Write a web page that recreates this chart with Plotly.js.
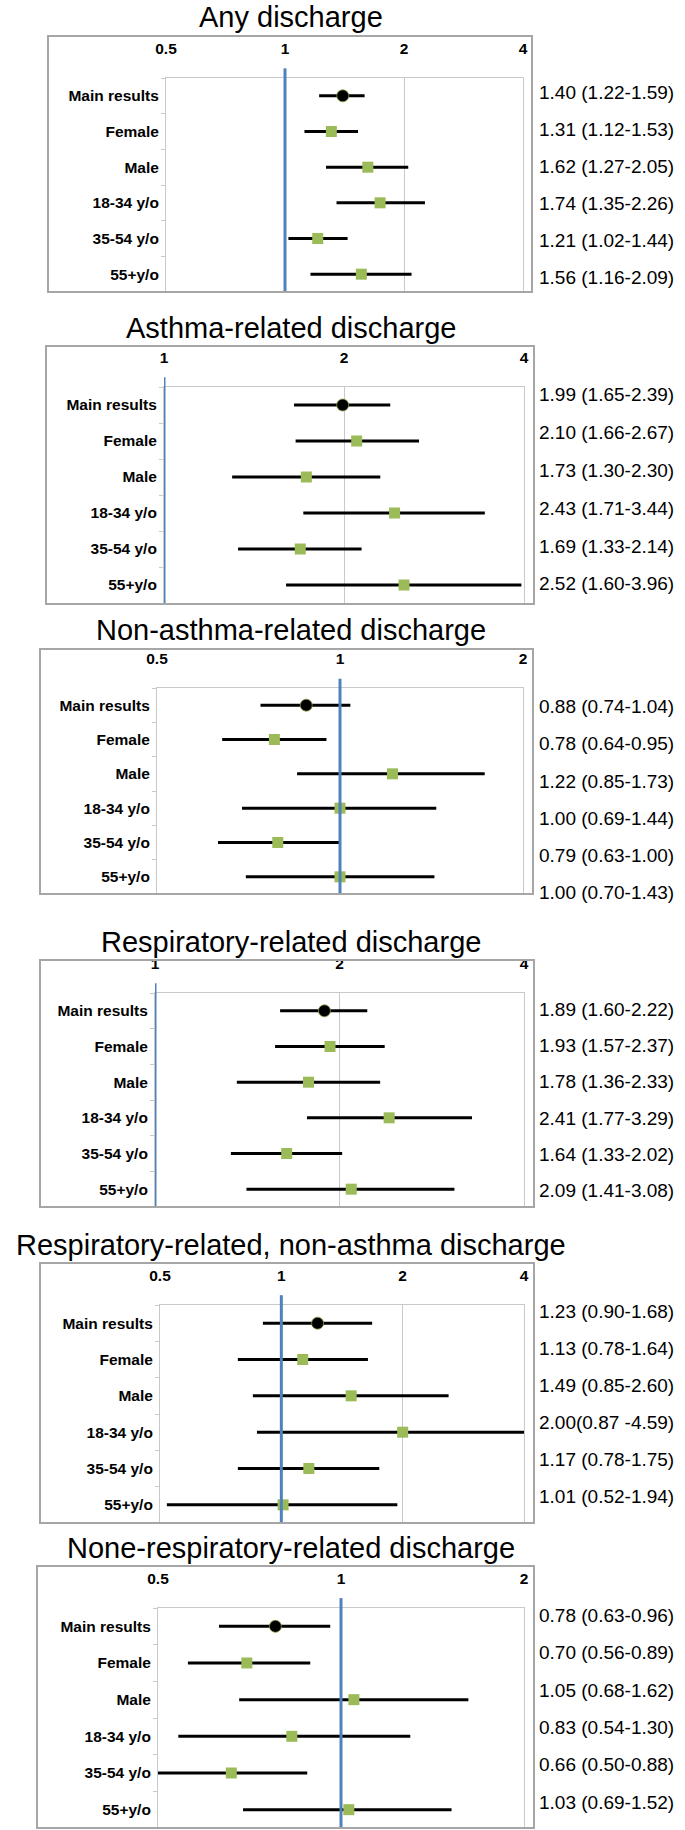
<!DOCTYPE html>
<html>
<head>
<meta charset="utf-8">
<script src="https://cdn.plot.ly/plotly-3.0.1.min.js"></script>
<style>html,body{margin:0;padding:0;background:#fff;}</style>
</head>
<body>
<div id="chart" style="width:685px;height:1830px;"></div>
<script>
// ---------------- DATA ----------------
const categories = ['Main results', 'Female', 'Male', '18-34 y/o', '35-54 y/o', '55+y/o'];
const panelTitles = [
  'Any discharge',
  'Asthma-related discharge',
  'Non-asthma-related discharge',
  'Respiratory-related discharge',
  'Respiratory-related, non-asthma discharge',
  'None-respiratory-related discharge'
];

const anyEst  = [1.40, 1.31, 1.62, 1.74, 1.21, 1.56];
const anyLow  = [1.22, 1.12, 1.27, 1.35, 1.02, 1.16];
const anyHigh = [1.59, 1.53, 2.05, 2.26, 1.44, 2.09];
const anyText = ['1.40 (1.22-1.59)', '1.31 (1.12-1.53)', '1.62 (1.27-2.05)', '1.74 (1.35-2.26)', '1.21 (1.02-1.44)', '1.56 (1.16-2.09)'];
const anyTicks = [0.5, 1, 2, 4];

const asthmaEst  = [1.99, 2.10, 1.73, 2.43, 1.69, 2.52];
const asthmaLow  = [1.65, 1.66, 1.30, 1.71, 1.33, 1.60];
const asthmaHigh = [2.39, 2.67, 2.30, 3.44, 2.14, 3.96];
const asthmaText = ['1.99 (1.65-2.39)', '2.10 (1.66-2.67)', '1.73 (1.30-2.30)', '2.43 (1.71-3.44)', '1.69 (1.33-2.14)', '2.52 (1.60-3.96)'];
const asthmaTicks = [1, 2, 4];

const nonAsthmaEst  = [0.88, 0.78, 1.22, 1.00, 0.79, 1.00];
const nonAsthmaLow  = [0.74, 0.64, 0.85, 0.69, 0.63, 0.70];
const nonAsthmaHigh = [1.04, 0.95, 1.73, 1.44, 1.00, 1.43];
const nonAsthmaText = ['0.88 (0.74-1.04)', '0.78 (0.64-0.95)', '1.22 (0.85-1.73)', '1.00 (0.69-1.44)', '0.79 (0.63-1.00)', '1.00 (0.70-1.43)'];
const nonAsthmaTicks = [0.5, 1, 2];

const respEst  = [1.89, 1.93, 1.78, 2.41, 1.64, 2.09];
const respLow  = [1.60, 1.57, 1.36, 1.77, 1.33, 1.41];
const respHigh = [2.22, 2.37, 2.33, 3.29, 2.02, 3.08];
const respText = ['1.89 (1.60-2.22)', '1.93 (1.57-2.37)', '1.78 (1.36-2.33)', '2.41 (1.77-3.29)', '1.64 (1.33-2.02)', '2.09 (1.41-3.08)'];
const respTicks = [1, 2, 4];

const respNonAsthmaEst  = [1.23, 1.13, 1.49, 2.00, 1.17, 1.01];
const respNonAsthmaLow  = [0.90, 0.78, 0.85, 0.87, 0.78, 0.52];
const respNonAsthmaHigh = [1.68, 1.64, 2.60, 4.59, 1.75, 1.94];
const respNonAsthmaText = ['1.23 (0.90-1.68)', '1.13 (0.78-1.64)', '1.49 (0.85-2.60)', '2.00(0.87 -4.59)', '1.17 (0.78-1.75)', '1.01 (0.52-1.94)'];
const respNonAsthmaTicks = [0.5, 1, 2, 4];

const nonRespEst  = [0.78, 0.70, 1.05, 0.83, 0.66, 1.03];
const nonRespLow  = [0.63, 0.56, 0.68, 0.54, 0.50, 0.69];
const nonRespHigh = [0.96, 0.89, 1.62, 1.30, 0.88, 1.52];
const nonRespText = ['0.78 (0.63-0.96)', '0.70 (0.56-0.89)', '1.05 (0.68-1.62)', '0.83 (0.54-1.30)', '0.66 (0.50-0.88)', '1.03 (0.69-1.52)'];
const nonRespTicks = [0.5, 1, 2];

const referenceValue = 1;

// ---------------- LAYOUT GEOMETRY (pixels) ----------------
const W = 685, H = 1830;
const panels = [
  {est: anyEst, low: anyLow, high: anyHigh, text: anyText, ticks: anyTicks,
   plot: [166, 523, 78, 292], box: [48, 532, 36, 292], title: 17, labOff: -0.1, labStep: 1.04},
  {est: asthmaEst, low: asthmaLow, high: asthmaHigh, text: asthmaText, ticks: asthmaTicks,
   plot: [164, 524, 387, 603], box: [46, 534, 346, 604], title: 328, labOff: -0.28, labStep: 1.05},
  {est: nonAsthmaEst, low: nonAsthmaLow, high: nonAsthmaHigh, text: nonAsthmaText, ticks: nonAsthmaTicks,
   plot: [157, 523, 688, 894], box: [40, 533, 649, 894], title: 630, labOff: 0.05, labStep: 1.08},
  {est: respEst, low: respLow, high: respHigh, text: respText, ticks: respTicks,
   plot: [155, 524, 993, 1207], box: [40, 534, 960, 1207], title: 942, labOff: -0.05, labStep: 1.02},
  {est: respNonAsthmaEst, low: respNonAsthmaLow, high: respNonAsthmaHigh, text: respNonAsthmaText, ticks: respNonAsthmaTicks,
   plot: [160, 524, 1305, 1523], box: [40, 534, 1263, 1523], title: 1245, labOff: -0.32, labStep: 1.02},
  {est: nonRespEst, low: nonRespLow, high: nonRespHigh, text: nonRespText, ticks: nonRespTicks,
   plot: [158, 524, 1608, 1828], box: [37, 534, 1566, 1828], title: 1548, labOff: -0.3, labStep: 1.02}
];

const GREEN = '#9BBB59', BLUE = '#4F81BD', GRID = '#C9C9C9', FRAME = '#A6A6A6';
const boldFont = {family: 'Liberation Sans, Arial, sans-serif', size: 15.5, color: '#000', weight: 700};

const px = v => v / W;
const py = v => 1 - v / H;

const traces = [];
const layout = {
  width: W, height: H,
  margin: {l: 0, r: 0, t: 0, b: 0},
  paper_bgcolor: '#fff', plot_bgcolor: '#fff',
  showlegend: false,
  shapes: [], annotations: []
};

panels.forEach((p, k) => {
  const n = k + 1;
  const xa = n === 1 ? 'x' : 'x' + n;
  const ya = n === 1 ? 'y' : 'y' + n;
  const xk = n === 1 ? 'xaxis' : 'xaxis' + n;
  const yk = n === 1 ? 'yaxis' : 'yaxis' + n;

  traces.push({
    type: 'scatter', mode: 'markers',
    x: p.est, y: categories, xaxis: xa, yaxis: ya,
    hoverinfo: 'skip', cliponaxis: true, opacity: 1,
    marker: {
      symbol: categories.map((c, i) => i === 0 ? 'circle' : 'square'),
      size: categories.map((c, i) => i === 0 ? 12 : 11),
      color: categories.map((c, i) => i === 0 ? '#000000' : GREEN),
      opacity: 1,
      line: {color: '#7F9A3E', width: categories.map((c, i) => i === 0 ? 0.8 : 0)}
    },
    error_x: {
      type: 'data', symmetric: false,
      array: p.high.map((h, i) => h - p.est[i]),
      arrayminus: p.est.map((e, i) => e - p.low[i]),
      color: '#000', thickness: 3, width: 0
    }
  });

  layout[xk] = {
    type: 'log', domain: [px(p.plot[0]), px(p.plot[1])], anchor: ya, side: 'top',
    range: [Math.log10(p.ticks[0]), Math.log10(p.ticks[p.ticks.length - 1])],
    tickmode: 'array', tickvals: p.ticks, ticktext: p.ticks.map(String),
    ticks: 'outside', ticklen: 17, tickcolor: 'rgba(0,0,0,0)',
    tickfont: boldFont,
    showgrid: true, gridcolor: GRID, gridwidth: 1,
    showline: true, linecolor: GRID, linewidth: 1,
    zeroline: false, fixedrange: true, automargin: false
  };
  layout[yk] = {
    type: 'category', domain: [py(p.plot[3]), py(p.plot[2])], anchor: xa,
    categoryorder: 'array', categoryarray: categories,
    range: [categories.length - 0.5, -0.5],
    tickson: 'boundaries', ticks: 'outside', ticklen: 4, tickcolor: GRID,
    ticklabelstandoff: 3,
    tickfont: boldFont,
    showgrid: false, showline: true, linecolor: GRID, linewidth: 1, mirror: true,
    zeroline: false, fixedrange: true, automargin: false
  };

  // reference line at 1
  layout.shapes.push({
    type: 'line', xref: xa, yref: ya + ' domain',
    x0: referenceValue, x1: referenceValue, y0: 0, y1: 1.045,
    line: {color: BLUE, width: 3}, layer: 'above'
  });
  // frame
  layout.shapes.push({
    type: 'rect', xref: 'paper', yref: 'paper',
    x0: px(p.box[0]), x1: px(p.box[1]), y0: py(p.box[3]), y1: py(p.box[2]),
    line: {color: FRAME, width: 2}, fillcolor: 'rgba(0,0,0,0)', layer: 'above'
  });
  // title
  layout.annotations.push({
    text: panelTitles[k], xref: 'paper', yref: 'paper',
    x: px(291), y: py(p.title), xanchor: 'center', yanchor: 'middle',
    showarrow: false, font: {family: 'Liberation Sans, Arial, sans-serif', size: 29, color: '#000'}
  });
  // right-hand estimate labels
  p.text.forEach((t, i) => {
    layout.annotations.push({
      text: t, xref: 'paper', yref: ya,
      x: px(537), y: p.labOff + i * p.labStep, xanchor: 'left', yanchor: 'middle',
      showarrow: false, font: {family: 'Liberation Sans, Arial, sans-serif', size: 19, color: '#000'}
    });
  });
});

Plotly.newPlot('chart', traces, layout, {displayModeBar: false, staticPlot: true});
</script>
</body>
</html>
